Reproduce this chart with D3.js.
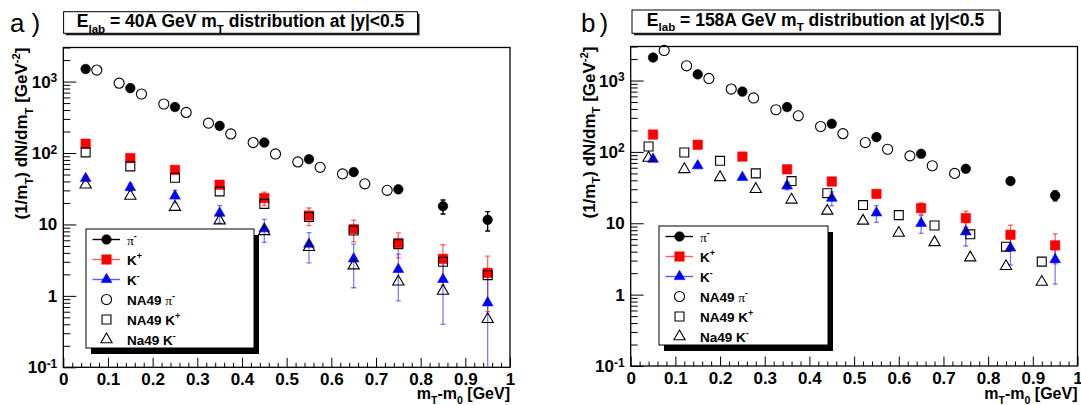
<!DOCTYPE html>
<html>
<head>
<meta charset="utf-8">
<script src="https://cdn.jsdelivr.net/npm/d3@7"></script>
<style>
  body { margin: 0; background: #fff; }
  svg { display: block; font-family: "Liberation Sans", Arial, Helvetica, sans-serif; }
</style>
</head>
<body>
<svg id="chart" width="1081" height="405"></svg>
<script>
// ---- bins (m_T - m_0 in GeV) ----
const mtBins = [0.05, 0.15, 0.25, 0.35, 0.45, 0.55, 0.65, 0.75, 0.85, 0.95];
const na49PionBins = [0.075, 0.125, 0.175, 0.225, 0.275, 0.325, 0.375, 0.425, 0.475, 0.525, 0.575, 0.625, 0.675, 0.725];
const na49Kaon40Bins = [0.05, 0.15, 0.25, 0.35, 0.45, 0.55, 0.65, 0.75, 0.85, 0.95];
const na49Kaon158Bins = [0.04, 0.12, 0.20, 0.28, 0.36, 0.44, 0.52, 0.60, 0.68, 0.76, 0.84, 0.92];

// ---- 40A GeV ----
const pim40 = [1500, 810, 440, 240, 140, 82, 54, 31, 18, 11.6];
const pim40Err = [0, 0, 0, 0, 0, 0, 0, 3.5, 4, 3.5];
const kp40 = [135, 85, 58, 36, 23.4, 13.3, 8.6, 5.5, 3.3, 2.1];
const kp40Err = [4, 3, 3, 3.5, 5, 3.7, 2.9, 2.1, 1.9, 1.5];
const km40 = [44, 33, 25, 14.4, 8.7, 5.3, 3.3, 2.35, 1.7, 0.8];
const km40Err = [3, 4, 5, 4, 3.1, 2.4, 2.0, 1.5, 1.3, 1.5];
const na49Pim40 = [1450, 950, 670, 485, 370, 262, 185, 140, 97, 75, 63, 51, 37, 30];
const na49Kp40 = [102, 65, 45, 29, 19.4, 12.7, 8.2, 5.3, 3.0, 1.95];
const na49Km40 = [36, 25, 17.5, 11.3, 8, 4.8, 2.65, 1.58, 1.17, 0.47];

// ---- 158A GeV ----
const pim158 = [2100, 1220, 700, 425, 248, 161, 94, 58, 39, 24.5];
const pim158Err = [0, 0, 0, 0, 0, 0, 0, 0, 3, 3.9];
const kp158 = [175, 126, 86, 57, 38.5, 25.8, 16.3, 11.8, 6.9, 4.9];
const kp158Err = [0, 0, 0, 0, 0, 3, 3, 3, 2.5, 2.2];
const km158 = [79, 64, 44, 33.5, 22.5, 14, 10, 7.6, 4.5, 3.1];
const km158Err = [0, 0, 0, 4, 5, 3.7, 2.8, 2.8, 1.9, 1.7];
const na49Pim158 = [2640, 1610, 1070, 760, 570, 390, 320, 227, 180, 135, 109, 88, 64, 50];
const na49Kp158 = [119, 98, 75, 50, 39, 26.4, 18, 13, 9.3, 7.0, 4.7, 2.9];
const na49Km158 = [82, 57, 44, 30, 21.3, 14.9, 10.8, 7.3, 5.4, 3.3, 2.5, 1.5];

// ---- axes ----
const xDomain = [0, 1];
const yDomain = [0.1, 3000];
const xTickValues = [0, 0.1, 0.2, 0.3, 0.4, 0.5, 0.6, 0.7, 0.8, 0.9, 1];
const yTickValues = [0.1, 1, 10, 100, 1000];
const yTickLabels = [["10", "-1"], ["1", ""], ["10", ""], ["10", "2"], ["10", "3"]];

const SERIF = '"Liberation Serif", "DejaVu Serif", serif';

// marker styles per series kind
const styles = {
  pim:   { shape: d3.symbolCircle,   size: 72, fill: "#000", stroke: "#000", err: "#000", errOp: 1, line: "#000" },
  kp:    { shape: d3.symbolSquare,   size: 88, fill: "#ff0000", stroke: "#ff0000", err: "#ff2a2a", errOp: 0.7, line: "#ff5a5a" },
  km:    { shape: d3.symbolTriangle, size: 50, fill: "#0000ff", stroke: "#0000ff", err: "#2a2aff", errOp: 0.6, line: "#5a5aff" },
  oPim:  { shape: d3.symbolCircle,   size: 80, fill: "none", stroke: "#000", sw: 1.1 },
  oKp:   { shape: d3.symbolSquare,   size: 80, fill: "none", stroke: "#000", sw: 1.1 },
  oKm:   { shape: d3.symbolTriangle, size: 55, fill: "none", stroke: "#000", sw: 1.1 }
};

const panels = [
  {
    id: "a", tag: ["a", ")"], energy: "40A",
    x0: 63.3, x1: 510, yTop: 47.5, yBot: 367.3,
    tagX: 10, tagGap: 7, box: { x0: 63.6, x1: 417.5, y0: 11.7, y1: 33.3 },
    legend: { x: 86, y: 229, w: 168, h: 119 },
    series: [
      { kind: "pim", xs: mtBins, ys: pim40, err: pim40Err },
      { kind: "kp", xs: mtBins, ys: kp40, err: kp40Err },
      { kind: "km", xs: mtBins, ys: km40, err: km40Err },
      { kind: "oPim", xs: na49PionBins, ys: na49Pim40 },
      { kind: "oKp", xs: na49Kaon40Bins, ys: na49Kp40 },
      { kind: "oKm", xs: na49Kaon40Bins, ys: na49Km40 }
    ]
  },
  {
    id: "b", tag: ["b", ")"], energy: "158A",
    x0: 630.7, x1: 1077.5, yTop: 46.5, yBot: 366,
    tagX: 581, tagGap: 4, box: { x0: 632, x1: 999, y0: 10, y1: 33.3 },
    legend: { x: 659, y: 226, w: 169, h: 119 },
    series: [
      { kind: "pim", xs: mtBins, ys: pim158, err: pim158Err },
      { kind: "kp", xs: mtBins, ys: kp158, err: kp158Err },
      { kind: "km", xs: mtBins, ys: km158, err: km158Err },
      { kind: "oPim", xs: na49PionBins, ys: na49Pim158 },
      { kind: "oKp", xs: na49Kaon158Bins, ys: na49Kp158 },
      { kind: "oKm", xs: na49Kaon158Bins, ys: na49Km158 }
    ]
  }
];

const legendEntries = [
  { kind: "pim", withLine: true, parts: [{ t: "π", font: SERIF, weight: "normal" }, { t: "-", sup: true }] },
  { kind: "kp", withLine: true, parts: [{ t: "K" }, { t: "+", sup: true }] },
  { kind: "km", withLine: true, parts: [{ t: "K" }, { t: "-", sup: true }] },
  { kind: "oPim", parts: [{ t: "NA49 " }, { t: "π", font: SERIF, weight: "normal" }, { t: "-", sup: true }] },
  { kind: "oKp", parts: [{ t: "NA49 K" }, { t: "+", sup: true }] },
  { kind: "oKm", parts: [{ t: "Na49 K" }, { t: "-", sup: true }] }
];

// text with sub/superscripts built from tspans
function richText(sel, parts, size) {
  let shift = 0;
  parts.forEach(p => {
    const target = p.sub ? 0.32 * size : p.sup ? -0.42 * size : 0;
    const ts = sel.append("tspan").text(p.t).attr("dy", target - shift);
    if (p.sub || p.sup) ts.attr("font-size", (size * 0.66).toFixed(2));
    if (p.font) ts.attr("font-family", p.font);
    if (p.weight) ts.attr("font-weight", p.weight);
    shift = target;
  });
}

function symbolPath(kind) {
  const s = styles[kind];
  return d3.symbol().type(s.shape).size(s.size)();
}

function drawMarker(g, kind, cx, cy) {
  const s = styles[kind];
  g.append("path")
    .attr("d", symbolPath(kind))
    .attr("transform", `translate(${cx},${cy})`)
    .attr("fill", s.fill)
    .attr("stroke", s.stroke)
    .attr("stroke-width", s.sw || 0.6);
}

const svg = d3.select("#chart");

panels.forEach(drawPanel);

function drawPanel(p) {
  const g = svg.append("g").attr("class", "panel-" + p.id);
  const x = d3.scaleLinear().domain(xDomain).range([p.x0, p.x1]);
  const y = d3.scaleLog().domain(yDomain).range([p.yBot, p.yTop]);

  // panel tag, e.g. "a )"
  const tag = g.append("text").attr("x", p.tagX).attr("y", 31.5)
    .attr("font-size", 26).attr("font-family", '"Liberation Sans", Arial, sans-serif');
  tag.append("tspan").text(p.tag[0]);
  tag.append("tspan").attr("dx", p.tagGap).text(p.tag[1]);

  // title box with shadow
  const b = p.box;
  g.append("rect").attr("x", b.x0 + 2).attr("y", b.y0 + 2)
    .attr("width", b.x1 - b.x0).attr("height", b.y1 - b.y0).attr("fill", "#222");
  g.append("rect").attr("x", b.x0).attr("y", b.y0)
    .attr("width", b.x1 - b.x0).attr("height", b.y1 - b.y0)
    .attr("fill", "#fff").attr("stroke", "#000").attr("stroke-width", 1);
  const title = g.append("text")
    .attr("x", (b.x0 + b.x1) / 2).attr("y", b.y0 + 15.5)
    .attr("text-anchor", "middle").attr("font-weight", "bold").attr("font-size", 17.5);
  richText(title, [
    { t: "E" }, { t: "lab", sub: true },
    { t: ` = ${p.energy} GeV m` }, { t: "T", sub: true },
    { t: " distribution at |y|<0.5" }
  ], 17.5);

  // frame
  const clipId = "clip-" + p.id;
  svg.append("defs").append("clipPath").attr("id", clipId)
    .append("rect").attr("x", p.x0).attr("y", p.yTop)
    .attr("width", p.x1 - p.x0).attr("height", p.yBot - p.yTop);

  g.append("rect").attr("x", p.x0).attr("y", p.yTop)
    .attr("width", p.x1 - p.x0).attr("height", p.yBot - p.yTop)
    .attr("fill", "none").attr("stroke", "#000").attr("stroke-width", 1.3);

  // x axis: minor ticks every 0.02, major every 0.1 (pointing inward)
  const xMinor = d3.range(0, 51).map(i => i * 0.02).filter(v => Math.abs(v * 10 - Math.round(v * 10)) > 1e-6);
  g.append("g").attr("transform", `translate(0,${p.yBot})`)
    .call(d3.axisBottom(x).tickValues(xMinor).tickSizeInner(-4.5).tickSizeOuter(0).tickFormat(""))
    .call(a => a.select(".domain").remove());
  const xa = g.append("g").attr("transform", `translate(0,${p.yBot})`)
    .call(d3.axisBottom(x).tickValues(xTickValues).tickSizeInner(-9.5).tickSizeOuter(0)
      .tickPadding(6).tickFormat(d3.format("~g")))
    .call(a => a.select(".domain").remove());
  xa.attr("font-size", 17).attr("font-weight", "bold")
    .attr("font-family", '"Liberation Sans", Arial, sans-serif');
  xa.selectAll("text").attr("fill", "#000");

  // y axis: decades and 2..9 sub-ticks
  const yMinor = [];
  yTickValues.forEach(d => { for (let m = 2; m <= 9; m++) { const v = m * d; if (v <= yDomain[1] * 1.0001) yMinor.push(v); } });
  g.append("g").attr("transform", `translate(${p.x0},0)`)
    .call(d3.axisLeft(y).tickValues(yMinor).tickSizeInner(-7).tickSizeOuter(0).tickFormat(""))
    .call(a => a.select(".domain").remove());
  const ya = g.append("g").attr("transform", `translate(${p.x0},0)`)
    .call(d3.axisLeft(y).tickValues(yTickValues).tickSizeInner(-13).tickSizeOuter(0).tickPadding(6))
    .call(a => a.select(".domain").remove());
  ya.attr("font-size", 17).attr("font-weight", "bold")
    .attr("font-family", '"Liberation Sans", Arial, sans-serif');
  ya.selectAll("text").each(function (d) {
    const t = d3.select(this).text("").attr("fill", "#000");
    const lab = yTickLabels[yTickValues.indexOf(d)];
    t.append("tspan").text(lab[0]);
    if (lab[1]) t.append("tspan").text(lab[1]).attr("dy", "-0.45em").attr("font-size", 12);
  });

  // axis titles
  const ytitle = g.append("text")
    .attr("transform", `translate(${p.x0 - 36},${p.yTop}) rotate(-90)`)
    .attr("text-anchor", "end").attr("font-weight", "bold").attr("font-size", 17);
  richText(ytitle, [
    { t: "(1/m" }, { t: "T", sub: true }, { t: ") dN/dm" }, { t: "T", sub: true },
    { t: " [GeV" }, { t: "-2", sup: true }, { t: "]" }
  ], 17);

  const xtitle = g.append("text")
    .attr("x", p.x1).attr("y", 398.5)
    .attr("text-anchor", "end").attr("font-weight", "bold").attr("font-size", 16);
  richText(xtitle, [
    { t: "m" }, { t: "T", sub: true }, { t: "-m" }, { t: "0", sub: true }, { t: " [GeV]" }
  ], 16);

  // error bars (clipped to the frame)
  const eg = g.append("g").attr("clip-path", `url(#${clipId})`);
  p.series.filter(s => s.err).forEach(s => {
    const st = styles[s.kind];
    s.ys.forEach((v, i) => {
      const e = s.err[i];
      if (!e) return;
      const cx = x(s.xs[i]);
      const hi = y(v + e);
      const lo = v - e > 0 ? y(v - e) : p.yBot + 5;
      const bar = eg.append("g").attr("stroke", st.err).attr("stroke-opacity", st.errOp).attr("stroke-width", 1.3);
      bar.append("line").attr("x1", cx).attr("x2", cx).attr("y1", hi).attr("y2", lo);
      bar.append("line").attr("x1", cx - 2.5).attr("x2", cx + 2.5).attr("y1", hi).attr("y2", hi);
      if (v - e > 0) bar.append("line").attr("x1", cx - 2.5).attr("x2", cx + 2.5).attr("y1", lo).attr("y2", lo);
    });
  });

  // markers
  const mg = g.append("g");
  p.series.forEach(s => {
    s.ys.forEach((v, i) => drawMarker(mg, s.kind, x(s.xs[i]), y(v)));
  });

  // legend with drop shadow
  const L = p.legend;
  g.append("rect").attr("x", L.x + 5).attr("y", L.y + 6).attr("width", L.w).attr("height", L.h).attr("fill", "#000");
  g.append("rect").attr("x", L.x).attr("y", L.y).attr("width", L.w).attr("height", L.h)
    .attr("fill", "#fff").attr("stroke", "#000").attr("stroke-width", 1);
  const mx = L.x + 20.5, tx = L.x + 41;
  legendEntries.forEach((en, i) => {
    const cy = L.y + 10.5 + 20 * i;
    const st = styles[en.kind];
    if (en.withLine) {
      g.append("line").attr("x1", L.x + 6.5).attr("x2", L.x + 34).attr("y1", cy).attr("y2", cy)
        .attr("stroke", st.line).attr("stroke-width", 1.4);
    }
    drawMarker(g, en.kind, mx, cy);
    const t = g.append("text").attr("x", tx).attr("y", cy + 5)
      .attr("font-weight", "bold").attr("font-size", 13.5);
    richText(t, en.parts, 13.5);
  });
}
</script>
</body>
</html>
